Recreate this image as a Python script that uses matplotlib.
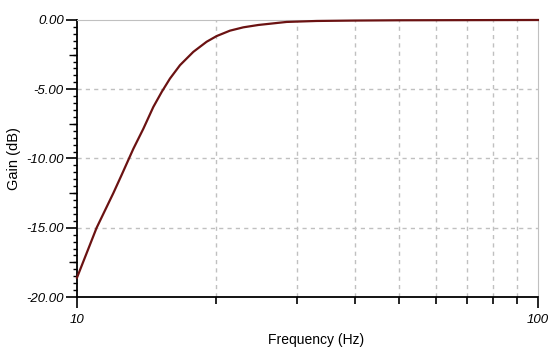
import matplotlib
matplotlib.use('Agg')
import matplotlib.pyplot as plt
from matplotlib.ticker import FixedLocator, MultipleLocator, FormatStrFormatter, NullFormatter

plt.rcParams['font.family'] = ['Liberation Sans', 'DejaVu Sans']
plt.rcParams['axes.unicode_minus'] = False

# frequency response
freq = [10, 11.03, 11.99, 12.5, 13.25, 13.93, 14.64, 15.27, 15.91, 16.73,
        17.88, 19.11, 20.09, 21.47, 22.95, 24.74, 28.5, 33.1, 40, 50, 70, 100]
gain = [-18.6, -15.0, -12.5, -11.18, -9.3, -7.85, -6.28, -5.19, -4.23, -3.26,
        -2.3, -1.57, -1.16, -0.77, -0.53, -0.36, -0.14, -0.07, -0.04, -0.02, -0.01, 0.0]

y_major = [0, -5, -10, -15, -20]
y_mid = [-2.5, -7.5, -12.5, -17.5]
x_minor = [20, 30, 40, 50, 60, 70, 80, 90]

fig = plt.figure(figsize=(5.56, 3.59), dpi=100)
ax = fig.add_axes([0.1385, 0.1727, 0.829, 0.7716])

ax.plot(freq, gain, color='#6b1212', linewidth=1.6, clip_on=False, zorder=3,
        solid_joinstyle='round')

ax.set_xscale('log')
ax.set_xlim(10, 100)
ax.set_ylim(-20, 0)

# ticks
ax.xaxis.set_major_locator(FixedLocator([10, 100]))
ax.xaxis.set_major_formatter(FormatStrFormatter('%d'))
ax.xaxis.set_minor_locator(FixedLocator(x_minor))
ax.xaxis.set_minor_formatter(NullFormatter())
ax.yaxis.set_major_locator(FixedLocator(y_major))
ax.yaxis.set_major_formatter(FormatStrFormatter('%.2f'))
ax.yaxis.set_minor_locator(MultipleLocator(0.5))

ax.tick_params(axis='both', which='major', direction='out', length=8, width=1.2,
               color='black', labelsize=9.5)
ax.tick_params(axis='x', which='major', pad=4)
ax.tick_params(axis='y', which='major', pad=1.5)
ax.tick_params(axis='x', which='minor', direction='out', length=5, width=1.2)
ax.tick_params(axis='y', which='minor', direction='out', length=3, width=1.0)
for lab in ax.get_xticklabels() + ax.get_yticklabels():
    lab.set_fontstyle('italic')

# medium ticks at the half-way points
sec = ax.secondary_yaxis('left')
sec.set_yticks(y_mid)
sec.set_yticklabels([])
sec.tick_params(direction='out', length=6, width=1.0)
sec.spines['left'].set_visible(False)

# grid
for y in y_major[1:-1]:
    ax.axhline(y, color='#c0c0c0', linewidth=1, linestyle=(0, (3, 3)), zorder=1)
for x in x_minor:
    ax.axvline(x, color='#c0c0c0', linewidth=1, linestyle=(0, (3, 3)), zorder=1)

ax.spines['left'].set_color('black')
ax.spines['bottom'].set_color('black')
ax.spines['left'].set_linewidth(1.3)
ax.spines['bottom'].set_linewidth(1.3)
ax.spines['top'].set_color('#c0c0c0')
ax.spines['right'].set_color('#c0c0c0')

ax.set_xlabel('Frequency (Hz)', fontsize=10)
ax.xaxis.set_label_coords(0.518, -0.13)
ax.set_ylabel('Gain (dB)', fontsize=10.5, labelpad=4)

fig.savefig('out.png', dpi=100)
